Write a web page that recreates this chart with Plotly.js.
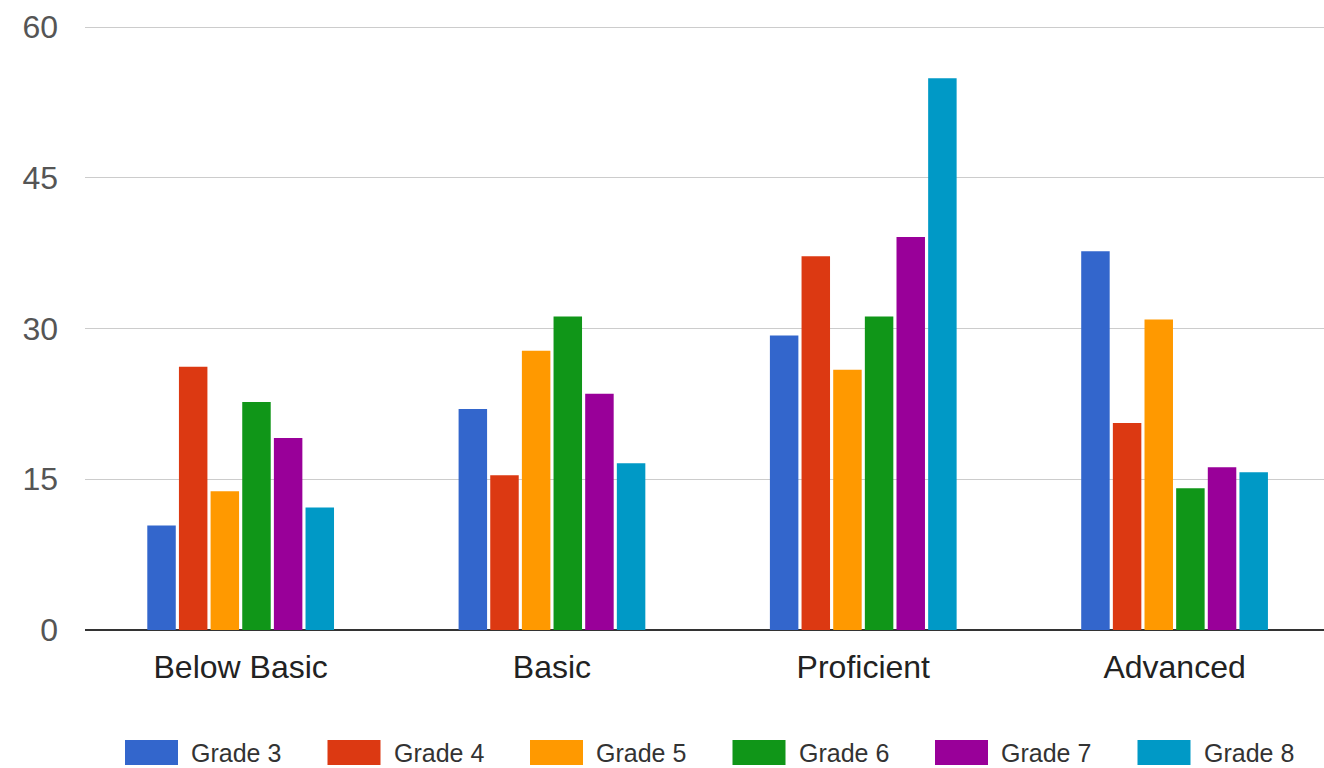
<!DOCTYPE html>
<html>
<head>
<meta charset="utf-8">
<script src="https://cdn.plot.ly/plotly-3.0.1.min.js"></script>
<style>html,body{margin:0;padding:0;background:#fff;}#chart{width:1324px;height:768px;}</style>
</head>
<body>
<div id="chart"></div>
<script>
const categories = ["Below Basic", "Basic", "Proficient", "Advanced"];
const seriesNames = ["Grade 3", "Grade 4", "Grade 5", "Grade 6", "Grade 7", "Grade 8"];
const grade3 = [10.4, 22.0, 29.3, 37.7];
const grade4 = [26.2, 15.4, 37.2, 20.6];
const grade5 = [13.8, 27.8, 25.9, 30.9];
const grade6 = [22.7, 31.2, 31.2, 14.1];
const grade7 = [19.1, 23.5, 39.1, 16.2];
const grade8 = [12.2, 16.6, 54.9, 15.7];
const yTicks = [0, 15, 30, 45, 60];

const seriesValues = [grade3, grade4, grade5, grade6, grade7, grade8];
const colors = ["#3366cc", "#dc3912", "#ff9900", "#109618", "#990099", "#0099c6"];

const traces = seriesNames.map((name, i) => ({
  type: "bar",
  name: name,
  x: categories,
  y: seriesValues[i],
  marker: {color: colors[i]},
  showlegend: false,
  hoverinfo: "x+y+name"
}));

const shapes = [];
const annotations = [];
const legendStart = 125, legendStep = 202.5, W = 1324, H = 768;
seriesNames.forEach((name, i) => {
  const x0 = legendStart + i * legendStep;
  shapes.push({type: "rect", xref: "paper", yref: "paper",
    x0: x0, x1: x0 + 53, y0: 740, y1: 765,
    fillcolor: colors[i], line: {width: 0}});
  annotations.push({xref: "paper", yref: "paper", text: name, showarrow: false,
    xanchor: "left", yanchor: "middle", x: x0 + 64, y: 752.5,
    font: {family: "Liberation Sans, Arial, sans-serif", size: 25, color: "#333"}});
});

// convert pixel coords to paper coords
const margin = {l: 85, r: 0, t: 17, b: 138};
const pw = W - margin.l - margin.r, ph = H - margin.t - margin.b;
shapes.forEach(s => {
  s.x0 = (s.x0 - margin.l) / pw; s.x1 = (s.x1 - margin.l) / pw;
  const y0 = s.y0, y1 = s.y1;
  s.y0 = (H - margin.b - y1) / ph; s.y1 = (H - margin.b - y0) / ph;
});
annotations.forEach(a => {
  a.x = (a.x - margin.l) / pw;
  a.y = (H - margin.b - a.y) / ph;
});

const layout = {
  width: W, height: H,
  margin: margin,
  paper_bgcolor: "#fff", plot_bgcolor: "#fff",
  barmode: "group",
  bargap: 0.39,
  bargroupgap: 0.1,
  font: {family: "Liberation Sans, Arial, sans-serif"},
  xaxis: {
    type: "category",
    range: [-0.5, 3.48],
    showgrid: false, zeroline: false, showline: false,
    ticks: "",
    ticklabelstandoff: 15,
    tickfont: {size: 32, color: "#222"}
  },
  yaxis: {
    range: [0, 61],
    tickvals: yTicks,
    ticktext: yTicks.map(String),
    showgrid: true, gridcolor: "#cccccc", gridwidth: 1,
    zeroline: true, zerolinecolor: "#333333", zerolinewidth: 2,
    showline: false, ticks: "",
    ticklabelstandoff: 26,
    tickfont: {size: 32, color: "#555"}
  },
  shapes: shapes,
  annotations: annotations
};

Plotly.newPlot("chart", traces, layout, {displayModeBar: false, staticPlot: true});
</script>
</body>
</html>
